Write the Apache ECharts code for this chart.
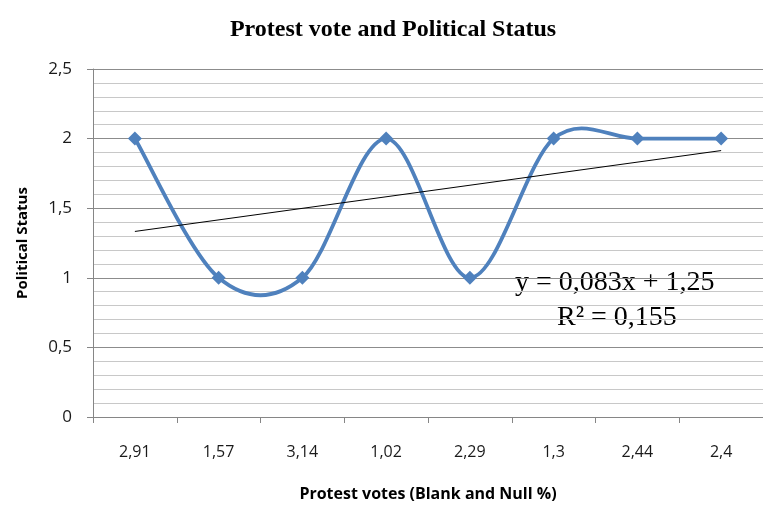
<!DOCTYPE html>
<html>
<head>
<meta charset="utf-8">
<script src="https://cdn.jsdelivr.net/npm/echarts@6/dist/echarts.min.js"></script>
<style>
  html, body { margin: 0; padding: 0; background: #fff; }
  #main { width: 763px; height: 507px; }
</style>
</head>
<body>
<div id="main"></div>
<script>
var categories = ["2,91", "1,57", "3,14", "1,02", "2,29", "1,3", "2,44", "2,4"];
var statusValues = [2, 1, 1, 2, 1, 2, 2, 2];
// linear trend y = 0,083x + 1,25, drawn from first to last point
var trendValues = [1.333, null, null, null, null, null, null, 1.914];
var yTicks = [0, 0.5, 1, 1.5, 2, 2.5];

var chartDom = document.getElementById("main");
var myChart = echarts.init(chartDom);

// Excel-like smoothed line (Catmull-Rom), one segment per data item
function renderSmooth(params, api) {
  var i = params.dataIndex;
  var n = statusValues.length;
  if (i >= n - 1) return;
  var p0 = api.coord([Math.max(i - 1, 0), statusValues[Math.max(i - 1, 0)]]);
  var p1 = api.coord([i, statusValues[i]]);
  var p2 = api.coord([i + 1, statusValues[i + 1]]);
  var p3 = api.coord([Math.min(i + 2, n - 1), statusValues[Math.min(i + 2, n - 1)]]);
  return {
    type: "bezierCurve",
    shape: {
      x1: p1[0], y1: p1[1],
      x2: p2[0], y2: p2[1],
      cpx1: p1[0] + (p2[0] - p0[0]) / 6,
      cpy1: p1[1] + (p2[1] - p0[1]) / 6,
      cpx2: p2[0] - (p3[0] - p1[0]) / 6,
      cpy2: p2[1] - (p3[1] - p1[1]) / 6
    },
    style: { stroke: "#4f81bd", lineWidth: 3.8, fill: null, lineCap: "round" },
    z2: 1
  };
}

var option = {
  animation: false,
  title: {
    text: "Protest vote and Political Status",
    left: 388,
    top: 13,
    textAlign: "center",
    textStyle: {
      fontFamily: "Liberation Serif",
      fontWeight: "bold",
      fontSize: 24,
      color: "#000"
    }
  },
  grid: {
    left: 93,
    width: 680,
    top: 69,
    bottom: 89
  },
  xAxis: {
    type: "category",
    data: categories,
    boundaryGap: true,
    name: "Protest votes (Blank and Null %)",
    nameLocation: "middle",
    nameGap: 69,
    nameTextStyle: {
      fontFamily: "Open Sans",
      fontWeight: "bold",
      fontSize: 16,
      color: "#000"
    },
    axisLine: { lineStyle: { color: "#868686", width: 1 } },
    axisTick: { show: true, length: 6, lineStyle: { color: "#868686" } },
    axisLabel: {
      margin: 27,
      fontFamily: "Open Sans",
      fontSize: 16,
      color: "#1a1a1a"
    },
    splitLine: { show: false }
  },
  yAxis: {
    type: "value",
    min: yTicks[0],
    max: yTicks[yTicks.length - 1],
    interval: 0.5,
    name: "Political Status",
    nameLocation: "middle",
    nameGap: 63,
    nameTextStyle: {
      fontFamily: "Open Sans",
      fontWeight: "bold",
      fontSize: 15,
      color: "#000"
    },
    axisLine: { show: true, lineStyle: { color: "#868686", width: 1 } },
    axisTick: { show: true, length: 6, lineStyle: { color: "#868686" } },
    axisLabel: {
      margin: 21,
      fontFamily: "Open Sans",
      fontSize: 17,
      color: "#1a1a1a",
      formatter: function (v) {
        return String(v).replace(".", ",");
      }
    },
    splitLine: { show: true, lineStyle: { color: "#8c8c8c", width: 1 } },
    minorTick: { show: false, splitNumber: 5 },
    minorSplitLine: { show: true, lineStyle: { color: "#c8c8c8", width: 1 } }
  },
  series: [
    {
      name: "Political Status curve",
      type: "custom",
      renderItem: renderSmooth,
      data: statusValues.map(function (v, i) { return [i, v]; }),
      encode: { x: 0, y: 1 },
      z: 3
    },
    {
      name: "Political Status",
      type: "line",
      data: statusValues,
      symbol: "diamond",
      symbolSize: 14,
      lineStyle: { width: 0, opacity: 0 },
      itemStyle: { color: "#4f81bd" },
      z: 4
    },
    {
      name: "Trend",
      type: "line",
      data: trendValues,
      connectNulls: true,
      symbol: "none",
      lineStyle: { color: "#000", width: 1 },
      z: 5
    }
  ],
  graphic: [
    {
      type: "text",
      x: 515,
      y: 283,
      style: {
        text: "y = 0,083x + 1,25",
        font: "28px 'Liberation Serif'",
        fill: "#000",
        verticalAlign: "middle"
      }
    },
    {
      type: "text",
      x: 557,
      y: 318,
      style: {
        text: "R² = 0,155",
        font: "28px 'Liberation Serif'",
        fill: "#000",
        verticalAlign: "middle"
      }
    }
  ]
};

option && myChart.setOption(option);
</script>
</body>
</html>
